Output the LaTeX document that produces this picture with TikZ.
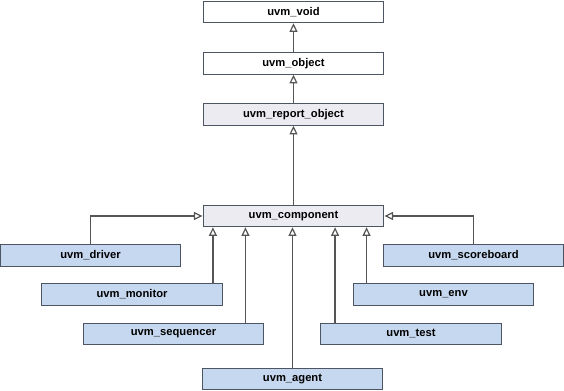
\documentclass[tikz,border=0pt]{standalone}
\usepackage{fontspec}
\setmainfont{Liberation Sans}
\usetikzlibrary{arrows.meta}
\definecolor{clsblue}{RGB}{198,216,239}
\definecolor{clsgray}{RGB}{237,235,242}
\definecolor{clsline}{RGB}{77,85,99}
\definecolor{linkgray}{RGB}{85,85,85}

\begin{document}
\begin{tikzpicture}[x=0.75pt,y=-0.75pt,
  cls/.style={draw=clsline, line width=0.9pt, fill=white, minimum width=135.5pt, minimum height=16pt, inner sep=0pt, font=\fontsize{8.4}{10}\selectfont\bfseries},
  base/.style={cls, fill=clsgray},
  sub/.style={cls, fill=clsblue},
  inh/.style={draw=linkgray, line width=0.9pt, -{Triangle[open,length=6.5pt,width=6pt]}}]
  \useasboundingbox (0,0) rectangle (564,391);

  % base classes
  \node[cls] (void) at (293.5,12) {uvm\_void};
  \node[cls] (object) at (293.5,63.5) {uvm\_object};
  \node[base] (report) at (293.5,114.5) {uvm\_report\_object};
  \node[base] (comp) at (293.5,216) {uvm\_component};

  % left side
  \node[sub] (driver) at (90.5,255.5) {uvm\_driver};
  \node[sub] (monitor) at (132,294.5) {uvm\_monitor};
  \node[sub] (sequencer) at (173.5,334) {uvm\_sequencer};
  \node[sub] (agent) at (292.5,379) {uvm\_agent};

  % right side
  \node[sub] (scoreboard) at (473.5,255.5) {uvm\_scoreboard};
  \node[sub] (env) at (443.5,294.5) {uvm\_env};
  \node[sub] (test) at (411,334) {uvm\_test};

  % inheritance
  \draw[inh] (object) -- (void);
  \draw[inh] (report) -- (object);
  \draw[inh] (comp) -- (report);
  \draw[inh] (driver.north) |- (comp.west);
  \draw[inh] (scoreboard.north) |- (comp.east);
  \draw[inh] ([xshift=-7.5pt]monitor.north east) -- ([xshift=-7.5pt]monitor.north east |- comp.south);
  \draw[inh] ([xshift=-14.25pt]sequencer.north east) -- ([xshift=-14.25pt]sequencer.north east |- comp.south);
  \draw[inh] (agent.north) -- (agent.north |- comp.south);
  \draw[inh] ([xshift=11.25pt]test.north west) -- ([xshift=11.25pt]test.north west |- comp.south);
  \draw[inh] ([xshift=10.5pt]env.north west) -- ([xshift=10.5pt]env.north west |- comp.south);
\end{tikzpicture}
\end{document}
